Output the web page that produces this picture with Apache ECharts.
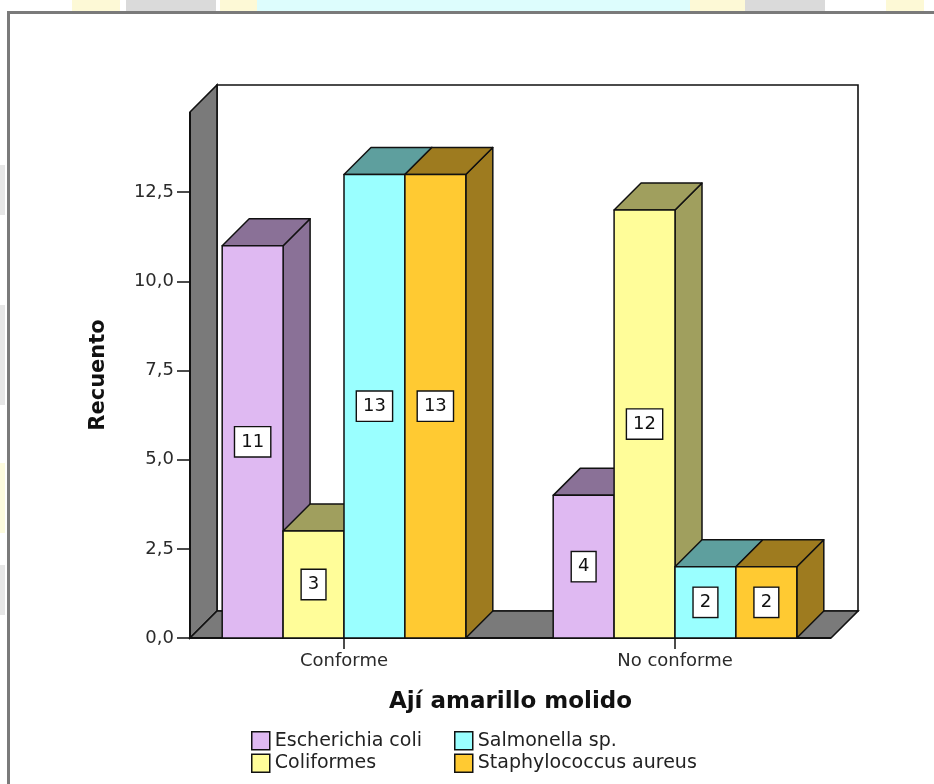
<!DOCTYPE html>
<html>
<head>
<meta charset="utf-8">
<title>Ají amarillo molido</title>
<script src="https://cdn.jsdelivr.net/npm/echarts@6/dist/echarts.min.js"></script>
<style>
  html, body { margin: 0; padding: 0; background: #ffffff; }
  #chart { width: 934px; height: 784px; }
</style>
</head>
<body>
<div id="chart"></div>
<script>
// Counts per microbiological result of "ají amarillo molido" samples
const categories = ['Conforme', 'No conforme'];
const escherichiaColi = [11, 4];
const coliformes = [3, 12];
const salmonella = [13, 2];
const staphylococcus = [13, 2];
const yTickValues = [0, 2.5, 5, 7.5, 10, 12.5];
const yMax = 14.75;

const FONT = 'DejaVu Sans';
const DEPTH = 27;            // depth offset of the 3D projection, px
const BAR_FRACTION = 0.184;  // width of one bar relative to the category band

const bacteria = [
  { name: 'Escherichia coli', values: escherichiaColi, front: '#DFB9F2', shade: '#8A7197' },
  { name: 'Coliformes', values: coliformes, front: '#FFFD99', shade: '#A09F5E' },
  { name: 'Salmonella sp.', values: salmonella, front: '#9AFFFF', shade: '#5E9F9E' },
  { name: 'Staphylococcus aureus', values: staphylococcus, front: '#FFCA32', shade: '#9E7B1F' }
];

const chart = echarts.init(document.getElementById('chart'), null, { renderer: 'canvas' });

// Box walls: grey left wall, grey floor, white back wall
function renderWalls(params, api) {
  const cs = params.coordSys;
  const x = cs.x, y = cs.y, w = cs.width, h = cs.height, d = DEPTH;
  const stroke = { stroke: '#111111', lineWidth: 1.6 };
  return {
    type: 'group',
    children: [
      { type: 'rect', shape: { x: x + d, y: y - d, width: w, height: h },
        style: Object.assign({ fill: '#ffffff' }, stroke) },
      { type: 'polygon', shape: { points: [[x, y], [x + d, y - d], [x + d, y + h - d], [x, y + h]] },
        style: Object.assign({ fill: '#7a7a7a' }, stroke) },
      { type: 'polygon', shape: { points: [[x, y + h], [x + d, y + h - d], [x + w + d, y + h - d], [x + w, y + h]] },
        style: Object.assign({ fill: '#7a7a7a' }, stroke) },
      { type: 'line', shape: { x1: x, y1: y + h, x2: x + w, y2: y + h },
        style: { stroke: '#111111', lineWidth: 2 } },
      { type: 'line', shape: { x1: x, y1: y, x2: x, y2: y + h },
        style: { stroke: '#111111', lineWidth: 2 } }
    ]
  };
}

// One 3D bar: front face, top face, right side and a boxed value label
function makeBarRenderer(k, front, shade) {
  return function (params, api) {
    const cat = api.value(0);
    const val = api.value(1);
    const base = api.coord([cat, 0]);
    const top = api.coord([cat, val]);
    const mid = api.coord([cat, val / 2]);
    const band = api.size([1, 0])[0];
    const w = band * BAR_FRACTION;
    const x0 = base[0] - 2 * w + k * w;
    const y0 = base[1], y1 = top[1], d = DEPTH;
    const edge = { stroke: '#111111', lineWidth: 1.5, lineJoin: 'round' };
    return {
      type: 'group',
      children: [
        { type: 'polygon', shape: { points: [[x0 + w, y1], [x0 + w + d, y1 - d], [x0 + w + d, y0 - d], [x0 + w, y0]] },
          style: Object.assign({ fill: shade }, edge) },
        { type: 'polygon', shape: { points: [[x0, y1], [x0 + d, y1 - d], [x0 + w + d, y1 - d], [x0 + w, y1]] },
          style: Object.assign({ fill: shade }, edge) },
        { type: 'rect', shape: { x: x0, y: y1, width: w, height: y0 - y1 },
          style: Object.assign({ fill: front }, edge) },
        { type: 'text', z2: 100, x: x0 + w / 2, y: mid[1],
          style: {
            text: String(val), fill: '#111111', fontFamily: FONT, fontSize: 18,
            align: 'center', verticalAlign: 'middle',
            backgroundColor: '#ffffff', borderColor: '#111111', borderWidth: 1.4,
            padding: [5, 6, 4, 6], lineHeight: 20
          } }
      ]
    };
  };
}

const barSeries = bacteria.map((b, k) => ({
  type: 'custom',
  name: b.name,
  xAxisIndex: 1,
  yAxisIndex: 1,
  z: 3,
  itemStyle: { color: b.front },
  encode: { x: 0, y: 1 },
  data: b.values.map((v, i) => [i, v]),
  renderItem: makeBarRenderer(k, b.front, b.shade)
}));

// Watermark fragments in the page margin
const marginPatches = [
  [72, 0, 48, 11, '#FDF9D6'], [126, 0, 90, 11, '#DADADA'], [220, 0, 40, 11, '#FDF9D6'],
  [257, 0, 433, 11, '#DDFDFD'], [690, 0, 55, 11, '#FDF9D6'], [745, 0, 80, 11, '#DADADA'],
  [886, 0, 38, 11, '#FDF9D6'], [0, 165, 5, 50, '#E6E6E6'], [0, 305, 5, 100, '#E6E6E6'],
  [0, 463, 5, 70, '#FDFBDE'], [0, 565, 5, 50, '#E6E6E6']
];

const legendBase = {
  orient: 'vertical', itemWidth: 18, itemHeight: 18, itemGap: 3, padding: 0,
  selectedMode: false, icon: 'rect',
  itemStyle: { borderColor: '#111111', borderWidth: 1.5 },
  textStyle: { fontFamily: FONT, fontSize: 19, color: '#222222' }
};

chart.setOption({
  animation: false,
  backgroundColor: '#ffffff',
  textStyle: { fontFamily: FONT },
  graphic: [
    ...marginPatches.map(p => ({ type: 'rect', z: -10, silent: true,
      shape: { x: p[0], y: p[1], width: p[2], height: p[3] }, style: { fill: p[4] } })),
    { type: 'rect', z: -5, silent: true, shape: { x: 8.5, y: 12.5, width: 940, height: 800 },
      style: { fill: 'none', stroke: '#7a7a7a', lineWidth: 3 } }
  ],
  grid: [
    { left: 190, right: 103, top: 112, bottom: 146 },
    { left: 178.5, right: 93.5, top: 112, bottom: 146 }
  ],
  xAxis: [
    {
      type: 'category', gridIndex: 0, data: categories,
      axisLine: { show: false }, axisTick: { show: false }, axisLabel: { show: false },
      name: 'Ají amarillo molido', nameLocation: 'middle', nameGap: 53,
      nameTextStyle: { fontFamily: FONT, fontSize: 23, fontWeight: 'bold', color: '#111111' }
    },
    {
      type: 'category', gridIndex: 1, data: categories,
      axisLine: { show: false },
      axisTick: { show: true, alignWithLabel: true, length: 11, lineStyle: { color: '#111111', width: 1.5 } },
      axisLabel: { fontFamily: FONT, fontSize: 18, color: '#2a2a2a', margin: 14 }
    }
  ],
  yAxis: [
    {
      type: 'value', gridIndex: 0, min: 0, max: yMax,
      splitLine: { show: false },
      axisLine: { show: false },
      axisTick: { show: true, customValues: yTickValues, length: 13, lineStyle: { color: '#111111', width: 1.5 } },
      axisLabel: {
        customValues: yTickValues, margin: 16, fontFamily: FONT, fontSize: 18, color: '#2a2a2a',
        formatter: v => v.toFixed(1).replace('.', ',')
      },
      name: 'Recuento', nameLocation: 'middle', nameGap: 81,
      nameTextStyle: { fontFamily: FONT, fontSize: 21, fontWeight: 'bold', color: '#111111' }
    },
    {
      type: 'value', gridIndex: 1, min: 0, max: yMax, show: false, splitLine: { show: false }
    }
  ],
  legend: [
    Object.assign({ data: [bacteria[0].name, bacteria[1].name], left: 251, top: 731 }, legendBase),
    Object.assign({ data: [bacteria[2].name, bacteria[3].name], left: 454, top: 731 }, legendBase)
  ],
  series: [
    {
      type: 'custom', name: 'walls', xAxisIndex: 0, yAxisIndex: 0, z: 1, silent: true,
      data: [[0, 0]], renderItem: renderWalls
    },
    ...barSeries
  ]
});
</script>
</body>
</html>
